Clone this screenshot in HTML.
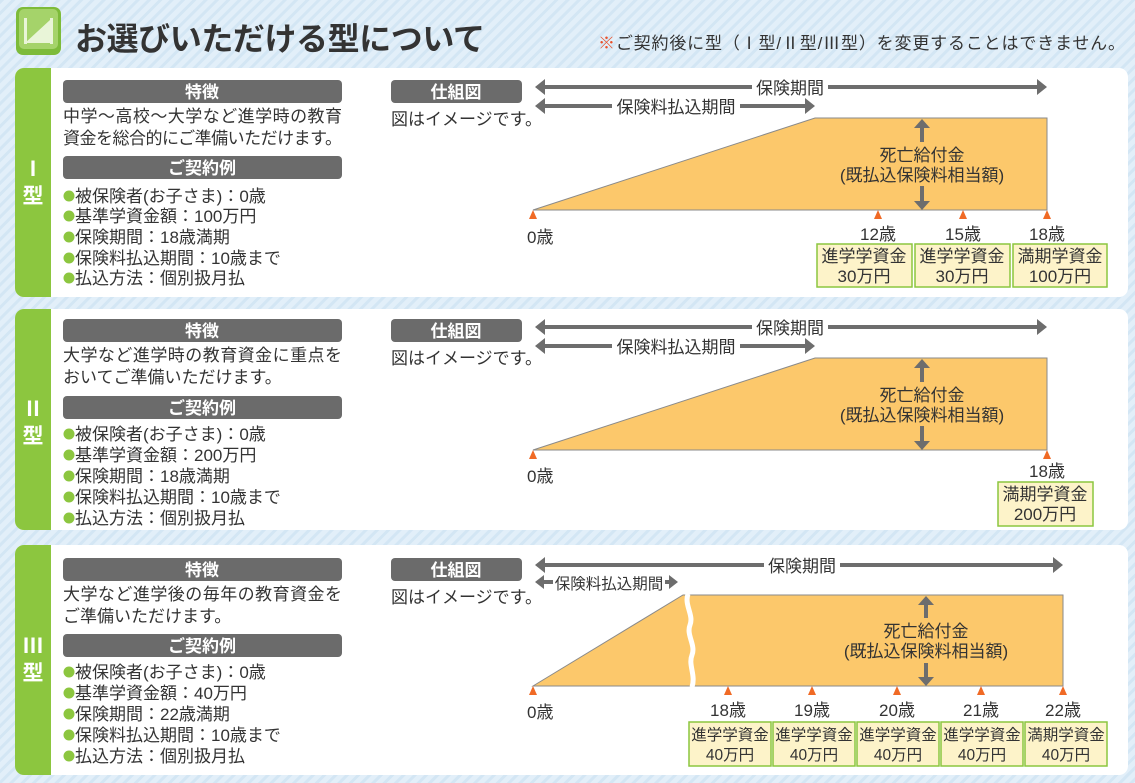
<!DOCTYPE html>
<html><head><meta charset="utf-8"><style>
html,body{margin:0;padding:0;width:1135px;height:783px;overflow:hidden}
svg text{font-family:"Liberation Sans","Noto Sans CJK JP",sans-serif}
</style></head><body>
<svg width="1135" height="783" viewBox="0 0 1135 783" xmlns="http://www.w3.org/2000/svg">
<defs>
<pattern id="st" width="8" height="8" patternUnits="userSpaceOnUse" patternTransform="rotate(45)">
<rect width="8" height="8" fill="#e2eff9"/><rect width="3" height="8" fill="#d3e6f4"/></pattern>
</defs>
<rect width="1135" height="783" fill="url(#st)"/>
<rect x="16" y="7" width="45" height="48" rx="7" fill="#7dbb3a"/>
<rect x="19" y="9" width="39" height="40" rx="5" fill="#a5d36a"/>
<path d="M25 43 L50 20 L50 43 Z" fill="#e9f5d8"/>
<rect x="24" y="18" width="3" height="26" fill="#e9f5d8"/><rect x="50" y="18" width="3" height="26" fill="#e9f5d8"/>
<text x="75" y="50" font-size="32" font-weight="bold" fill="#333" textLength="410">お選びいただける型について</text>
<text x="598" y="49" font-size="17" fill="#333" textLength="527"><tspan fill="#e8502a">※</tspan>ご契約後に型（Ⅰ型/Ⅱ型/Ⅲ型）を変更することはできません。</text>

<g font-size="17" fill="#333">
<!-- ===== panel I ===== -->
<rect x="15" y="68" width="1113" height="229" rx="9" fill="#fff"/>
<path d="M24 68 H51 V297 H24 A9 9 0 0 1 15 288 V77 A9 9 0 0 1 24 68Z" fill="#8cc63f"/>
<text x="33" y="176" font-size="21" font-weight="bold" fill="#fff" text-anchor="middle">Ⅰ</text>
<text x="33" y="203" font-size="21" font-weight="bold" fill="#fff" text-anchor="middle">型</text>
<rect x="63" y="80" width="279" height="23" rx="4" fill="#6b6b6b"/>
<text x="202" y="98" text-anchor="middle" fill="#fff" font-weight="bold" font-size="17">特徴</text>
<text x="63" y="122" textLength="279">中学〜高校〜大学など進学時の教育</text>
<text x="63" y="144" textLength="279">資金を総合的にご準備いただけます。</text>
<rect x="63" y="156" width="279" height="23" rx="4" fill="#6b6b6b"/>
<text x="202" y="174" text-anchor="middle" fill="#fff" font-weight="bold" font-size="17">ご契約例</text>
<circle cx="69" cy="196" r="5.5" fill="#8cc63f"/><text x="75" y="202">被保険者(お子さま)：0歳</text>
<circle cx="69" cy="216" r="5.5" fill="#8cc63f"/><text x="75" y="222">基準学資金額：100万円</text>
<circle cx="69" cy="237" r="5.5" fill="#8cc63f"/><text x="75" y="243">保険期間：18歳満期</text>
<circle cx="69" cy="258" r="5.5" fill="#8cc63f"/><text x="75" y="264">保険料払込期間：10歳まで</text>
<circle cx="69" cy="278" r="5.5" fill="#8cc63f"/><text x="75" y="284">払込方法：個別扱月払</text>
<rect x="391" y="80" width="131" height="23" rx="4" fill="#6b6b6b"/>
<text x="456" y="98" text-anchor="middle" fill="#fff" font-weight="bold" font-size="17">仕組図</text>
<text x="391" y="125">図はイメージです。</text>
<g stroke="#6d6d6d" stroke-width="4"><line x1="542" y1="87" x2="1040" y2="87"/><line x1="542" y1="106" x2="808" y2="106"/></g>
<g fill="#6d6d6d"><path d="M535 87l10-8v16z"/><path d="M1047 87l-10-8v16z"/><path d="M535 106l10-8v16z"/><path d="M815 106l-10-8v16z"/></g>
<rect x="752" y="78" width="76" height="18" fill="#fff"/><text x="790" y="94" text-anchor="middle">保険期間</text>
<rect x="612" y="97" width="128" height="18" fill="#fff"/><text x="676" y="113" text-anchor="middle">保険料払込期間</text>
<path d="M533 210 L815 118 L1047 118 L1047 210 Z" fill="#fcc86b" stroke="#8a8a8a" stroke-width="1"/>
<g stroke="#6d6d6d" stroke-width="4"><line x1="922" y1="126" x2="922" y2="142"/><line x1="922" y1="186" x2="922" y2="202"/></g>
<g fill="#6d6d6d"><path d="M922 119l-8 9h16z"/><path d="M922 210l-8-9h16z"/></g>
<text x="922" y="161" text-anchor="middle">死亡給付金</text>
<text x="922" y="181" text-anchor="middle">(既払込保険料相当額)</text>
<g fill="#f06a25"><path d="M533 210l-4 9h8z"/><path d="M878 210l-4 9h8z"/><path d="M963 210l-4 9h8z"/><path d="M1047 210l-4 9h8z"/></g>
<text x="527" y="243">0歳</text>
<text x="878" y="240" text-anchor="middle">12歳</text><text x="963" y="240" text-anchor="middle">15歳</text><text x="1047" y="240" text-anchor="middle">18歳</text>
<g fill="#fdf3c9" stroke="#8cc63f" stroke-width="1.5"><rect x="817" y="244" width="95" height="43"/><rect x="915" y="244" width="95" height="43"/><rect x="1013" y="244" width="94" height="43"/></g>
<text x="864" y="262" text-anchor="middle">進学学資金</text><text x="864" y="282" text-anchor="middle">30万円</text>
<text x="962" y="262" text-anchor="middle">進学学資金</text><text x="962" y="282" text-anchor="middle">30万円</text>
<text x="1060" y="262" text-anchor="middle">満期学資金</text><text x="1060" y="282" text-anchor="middle">100万円</text>

<!-- ===== panel II ===== -->
<rect x="15" y="309" width="1113" height="221" rx="9" fill="#fff"/>
<path d="M24 309 H51 V530 H24 A9 9 0 0 1 15 521 V318 A9 9 0 0 1 24 309Z" fill="#8cc63f"/>
<text x="33" y="416" font-size="21" font-weight="bold" fill="#fff" text-anchor="middle">Ⅱ</text>
<text x="33" y="443" font-size="21" font-weight="bold" fill="#fff" text-anchor="middle">型</text>
<rect x="63" y="319" width="279" height="23" rx="4" fill="#6b6b6b"/>
<text x="202" y="337" text-anchor="middle" fill="#fff" font-weight="bold" font-size="17">特徴</text>
<text x="63" y="361" textLength="279">大学など進学時の教育資金に重点を</text>
<text x="63" y="383">おいてご準備いただけます。</text>
<rect x="63" y="396" width="279" height="23" rx="4" fill="#6b6b6b"/>
<text x="202" y="414" text-anchor="middle" fill="#fff" font-weight="bold" font-size="17">ご契約例</text>
<circle cx="69" cy="434" r="5.5" fill="#8cc63f"/><text x="75" y="440">被保険者(お子さま)：0歳</text>
<circle cx="69" cy="455" r="5.5" fill="#8cc63f"/><text x="75" y="461">基準学資金額：200万円</text>
<circle cx="69" cy="476" r="5.5" fill="#8cc63f"/><text x="75" y="482">保険期間：18歳満期</text>
<circle cx="69" cy="497" r="5.5" fill="#8cc63f"/><text x="75" y="503">保険料払込期間：10歳まで</text>
<circle cx="69" cy="518" r="5.5" fill="#8cc63f"/><text x="75" y="524">払込方法：個別扱月払</text>
<rect x="391" y="319" width="131" height="23" rx="4" fill="#6b6b6b"/>
<text x="456" y="337" text-anchor="middle" fill="#fff" font-weight="bold" font-size="17">仕組図</text>
<text x="391" y="364">図はイメージです。</text>
<g stroke="#6d6d6d" stroke-width="4"><line x1="542" y1="327" x2="1040" y2="327"/><line x1="542" y1="346" x2="808" y2="346"/></g>
<g fill="#6d6d6d"><path d="M535 327l10-8v16z"/><path d="M1047 327l-10-8v16z"/><path d="M535 346l10-8v16z"/><path d="M815 346l-10-8v16z"/></g>
<rect x="752" y="318" width="76" height="18" fill="#fff"/><text x="790" y="334" text-anchor="middle">保険期間</text>
<rect x="612" y="337" width="128" height="18" fill="#fff"/><text x="676" y="353" text-anchor="middle">保険料払込期間</text>
<path d="M533 450 L815 358 L1047 358 L1047 450 Z" fill="#fcc86b" stroke="#8a8a8a" stroke-width="1"/>
<g stroke="#6d6d6d" stroke-width="4"><line x1="922" y1="366" x2="922" y2="382"/><line x1="922" y1="426" x2="922" y2="442"/></g>
<g fill="#6d6d6d"><path d="M922 359l-8 9h16z"/><path d="M922 450l-8-9h16z"/></g>
<text x="922" y="401" text-anchor="middle">死亡給付金</text>
<text x="922" y="421" text-anchor="middle">(既払込保険料相当額)</text>
<g fill="#f06a25"><path d="M533 450l-4 9h8z"/><path d="M1047 450l-4 9h8z"/></g>
<text x="527" y="482">0歳</text>
<text x="1047" y="477" text-anchor="middle">18歳</text>
<rect x="998" y="482" width="95" height="44" fill="#fdf3c9" stroke="#8cc63f" stroke-width="1.5"/>
<text x="1045" y="500" text-anchor="middle">満期学資金</text><text x="1045" y="520" text-anchor="middle">200万円</text>

<!-- ===== panel III ===== -->
<rect x="15" y="545" width="1113" height="230" rx="9" fill="#fff"/>
<path d="M24 545 H51 V775 H24 A9 9 0 0 1 15 766 V554 A9 9 0 0 1 24 545Z" fill="#8cc63f"/>
<text x="33" y="653" font-size="21" font-weight="bold" fill="#fff" text-anchor="middle">Ⅲ</text>
<text x="33" y="680" font-size="21" font-weight="bold" fill="#fff" text-anchor="middle">型</text>
<rect x="63" y="558" width="279" height="23" rx="4" fill="#6b6b6b"/>
<text x="202" y="576" text-anchor="middle" fill="#fff" font-weight="bold" font-size="17">特徴</text>
<text x="63" y="600" textLength="279">大学など進学後の毎年の教育資金を</text>
<text x="63" y="622">ご準備いただけます。</text>
<rect x="63" y="634" width="279" height="23" rx="4" fill="#6b6b6b"/>
<text x="202" y="652" text-anchor="middle" fill="#fff" font-weight="bold" font-size="17">ご契約例</text>
<circle cx="69" cy="672" r="5.5" fill="#8cc63f"/><text x="75" y="678">被保険者(お子さま)：0歳</text>
<circle cx="69" cy="693" r="5.5" fill="#8cc63f"/><text x="75" y="699">基準学資金額：40万円</text>
<circle cx="69" cy="714" r="5.5" fill="#8cc63f"/><text x="75" y="720">保険期間：22歳満期</text>
<circle cx="69" cy="735" r="5.5" fill="#8cc63f"/><text x="75" y="741">保険料払込期間：10歳まで</text>
<circle cx="69" cy="756" r="5.5" fill="#8cc63f"/><text x="75" y="762">払込方法：個別扱月払</text>
<rect x="391" y="558" width="131" height="23" rx="4" fill="#6b6b6b"/>
<text x="456" y="576" text-anchor="middle" fill="#fff" font-weight="bold" font-size="17">仕組図</text>
<text x="391" y="603">図はイメージです。</text>
<g stroke="#6d6d6d" stroke-width="4"><line x1="542" y1="565" x2="1056" y2="565"/><line x1="542" y1="582" x2="670" y2="582"/></g>
<g fill="#6d6d6d"><path d="M535 565l10-8v16z"/><path d="M1063 565l-10-8v16z"/><path d="M535 582l9-7v14z"/><path d="M678 582l-9-7v14z"/></g>
<rect x="764" y="556" width="76" height="18" fill="#fff"/><text x="802" y="572" text-anchor="middle">保険期間</text>
<rect x="553" y="573" width="112" height="18" fill="#fff"/><text x="609" y="589" text-anchor="middle" font-size="15.5">保険料払込期間</text>
<path d="M533 686 L683 595 L1063 595 L1063 686 Z" fill="#fcc86b" stroke="#8a8a8a" stroke-width="1"/>
<path d="M688 594 C684 605,694 615,690 625 C686 635,696 645,692 655 C688 665,696 675,692 687" fill="none" stroke="#fff" stroke-width="5"/>
<g stroke="#6d6d6d" stroke-width="4"><line x1="926" y1="603" x2="926" y2="618"/><line x1="926" y1="663" x2="926" y2="678"/></g>
<g fill="#6d6d6d"><path d="M926 596l-8 9h16z"/><path d="M926 686l-8-9h16z"/></g>
<text x="926" y="637" text-anchor="middle">死亡給付金</text>
<text x="926" y="657" text-anchor="middle">(既払込保険料相当額)</text>
<g fill="#f06a25"><path d="M533 686l-4 9h8z"/><path d="M728 686l-4 9h8z"/><path d="M812 686l-4 9h8z"/><path d="M897 686l-4 9h8z"/><path d="M981 686l-4 9h8z"/><path d="M1063 686l-4 9h8z"/></g>
<text x="527" y="718">0歳</text>
<text x="728" y="716" text-anchor="middle">18歳</text><text x="812" y="716" text-anchor="middle">19歳</text><text x="897" y="716" text-anchor="middle">20歳</text><text x="981" y="716" text-anchor="middle">21歳</text><text x="1063" y="716" text-anchor="middle">22歳</text>
<g fill="#fdf3c9" stroke="#8cc63f" stroke-width="1.5"><rect x="689" y="722" width="82" height="44"/><rect x="773" y="722" width="82" height="44"/><rect x="857" y="722" width="82" height="44"/><rect x="941" y="722" width="82" height="44"/><rect x="1025" y="722" width="82" height="44"/></g>
<g font-size="15.5" text-anchor="middle">
<text x="730" y="740">進学学資金</text><text x="730" y="760">40万円</text>
<text x="814" y="740">進学学資金</text><text x="814" y="760">40万円</text>
<text x="898" y="740">進学学資金</text><text x="898" y="760">40万円</text>
<text x="982" y="740">進学学資金</text><text x="982" y="760">40万円</text>
<text x="1066" y="740">満期学資金</text><text x="1066" y="760">40万円</text>
</g>
</g>
</svg>
</body></html>
